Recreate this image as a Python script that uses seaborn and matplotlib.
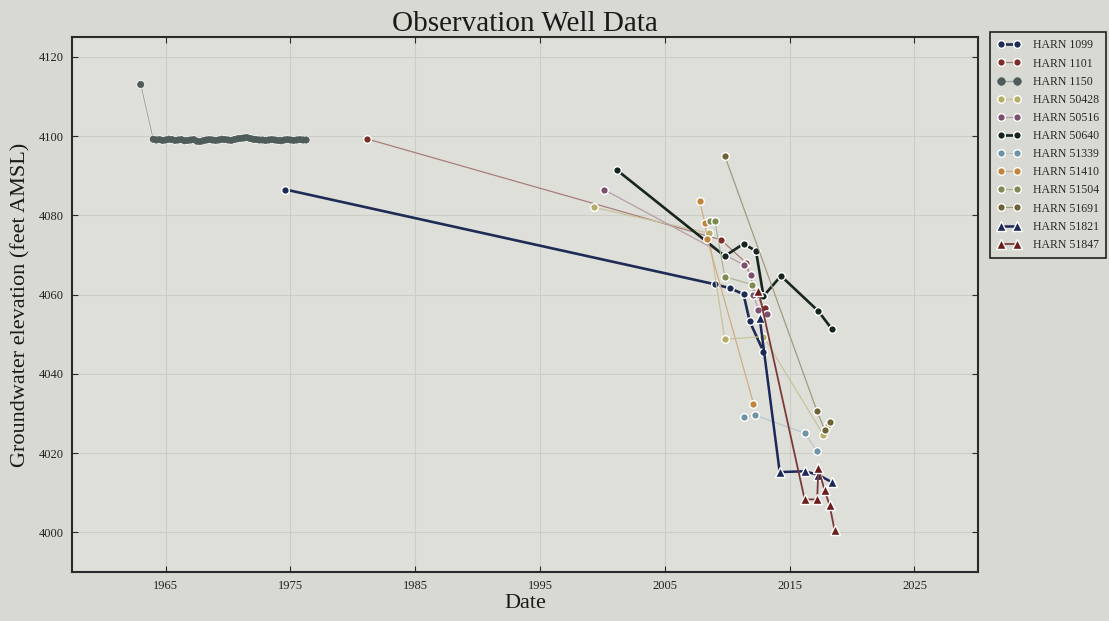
import matplotlib
matplotlib.use("Agg")
import matplotlib.pyplot as plt
import matplotlib.colors as mcolors
import matplotlib.patheffects as pe
import seaborn as sns
import pandas as pd

sns.set_style("ticks")
plt.rcParams['font.family'] = ['Liberation Serif', 'DejaVu Serif']

# ---------------- data ----------------
wells = ["HARN 1099", "HARN 1101", "HARN 1150", "HARN 50428", "HARN 50516",
         "HARN 50640", "HARN 51339", "HARN 51410", "HARN 51504", "HARN 51691",
         "HARN 51821", "HARN 51847"]

dates_1099 = [1974.6, 2009.0, 2010.2, 2011.3, 2011.8, 2012.9]
elev_1099 = [4086.5, 4062.6, 4061.6, 4060.1, 4053.2, 4045.6]

dates_1101 = [1981.1, 2009.5, 2011.5, 2012.3, 2013.0]
elev_1101 = [4099.3, 4073.8, 4068.0, 4060.0, 4056.5]

dates_1150 = [1963.0,
              1964.00, 1964.25, 1964.50, 1964.75, 1965.00, 1965.25, 1965.50, 1965.75,
              1966.00, 1966.25, 1966.50, 1966.75, 1967.00, 1967.25, 1967.50, 1967.75,
              1968.00, 1968.25, 1968.50, 1968.75, 1969.00, 1969.25, 1969.50, 1969.75,
              1970.00, 1970.25, 1970.50, 1970.75, 1971.00, 1971.25, 1971.50, 1971.75,
              1972.00, 1972.25, 1972.50, 1972.75, 1973.00, 1973.25, 1973.50, 1973.75,
              1974.00, 1974.25, 1974.50, 1974.75, 1975.00, 1975.25, 1975.50, 1975.75,
              1976.00, 1976.25]
elev_1150 = [4113.0,
             4099.2, 4099.0, 4099.1, 4098.9, 4099.0, 4099.2, 4099.1, 4098.9,
             4099.0, 4099.1, 4098.8, 4098.9, 4099.0, 4099.1, 4098.7, 4098.6,
             4098.8, 4099.0, 4099.1, 4099.0, 4098.9, 4099.0, 4099.2, 4099.1,
             4099.0, 4098.9, 4099.1, 4099.3, 4099.4, 4099.5, 4099.6, 4099.4,
             4099.2, 4099.1, 4099.0, 4099.0, 4098.9, 4099.0, 4099.1, 4099.0,
             4098.9, 4098.8, 4099.0, 4099.1, 4099.0, 4098.9, 4099.0, 4099.1,
             4099.0, 4099.0]

dates_50428 = [1999.3, 2008.5, 2009.8, 2012.9, 2017.7, 2018.1]
elev_50428 = [4082.0, 4075.5, 4048.7, 4049.4, 4024.6, 4027.0]

dates_50516 = [2000.1, 2011.3, 2011.9, 2012.1, 2012.5, 2013.2]
elev_50516 = [4086.5, 4067.5, 4065.0, 4060.0, 4056.0, 4055.0]

dates_50640 = [2001.2, 2009.8, 2011.3, 2012.3, 2012.9, 2014.3, 2017.3, 2018.4]
elev_50640 = [4091.3, 4069.7, 4072.8, 4071.0, 4059.6, 4064.7, 4055.8, 4051.2]

dates_51339 = [2011.3, 2012.2, 2016.2, 2017.2]
elev_51339 = [4029.0, 4029.6, 4025.0, 4020.5]

dates_51410 = [2007.8, 2008.2, 2008.4, 2012.1]
elev_51410 = [4083.5, 4078.0, 4074.0, 4032.5]

dates_51504 = [2008.6, 2009.0, 2009.8, 2012.0]
elev_51504 = [4078.5, 4078.6, 4064.5, 4062.5]

dates_51691 = [2009.8, 2017.2, 2017.8, 2018.2]
elev_51691 = [4095.0, 4030.5, 4025.8, 4027.8]

dates_51821 = [2012.6, 2014.2, 2016.2, 2017.3, 2018.4]
elev_51821 = [4054.0, 4015.2, 4015.4, 4014.5, 4012.6]

dates_51847 = [2012.5, 2016.2, 2017.2, 2017.3, 2017.8, 2018.2, 2018.6]
elev_51847 = [4061.0, 4008.3, 4008.3, 4016.2, 4010.6, 4006.8, 4000.5]

x_ticks = [1965, 1975, 1985, 1995, 2005, 2015, 2025]
y_ticks = [4000, 4020, 4040, 4060, 4080, 4100, 4120]

# ---------------- style ----------------
series = [
    (dates_1099, elev_1099, '#1e2b55', 'o', 1.9, 1.0),
    (dates_1101, elev_1101, '#7b2d2a', 'o', 0.9, 0.55),
    (dates_1150, elev_1150, '#4f5c59', 'o', 0.9, 0.45),
    (dates_50428, elev_50428, '#b5ac66', 'o', 0.9, 0.55),
    (dates_50516, elev_50516, '#7d4f6e', 'o', 0.9, 0.45),
    (dates_50640, elev_50640, '#17251f', 'o', 1.9, 1.0),
    (dates_51339, elev_51339, '#6d93a5', 'o', 0.8, 0.35),
    (dates_51410, elev_51410, '#c0843f', 'o', 0.9, 0.55),
    (dates_51504, elev_51504, '#7d8a52', 'o', 0.9, 0.5),
    (dates_51691, elev_51691, '#6c6434', 'o', 0.9, 0.55),
    (dates_51821, elev_51821, '#1b2858', '^', 1.8, 1.0),
    (dates_51847, elev_51847, '#6b1c1c', '^', 1.3, 0.85),
]

bg_fig = '#d9d9d3'
bg_ax = '#dfdfda'

fig = plt.figure(figsize=(11.09, 6.21), dpi=100, facecolor=bg_fig)
ax = fig.add_axes([0.065, 0.079, 0.817, 0.8615])
ax.set_facecolor(bg_ax)

for name, (d, v, c, m, lw, la) in zip(wells, series):
    df = pd.DataFrame({"Date": d, "Elev": v})
    rgb = mcolors.to_rgb(c)
    bgc = mcolors.to_rgb(bg_ax)
    line_c = tuple(la * a + (1 - la) * b for a, b in zip(rgb, bgc))
    dense = len(d) > 20
    kw = dict(color=line_c, marker=m, markersize=5.5 if m == 'o' else 6.5,
              markerfacecolor=c, linewidth=lw, label=name)
    if dense:
        kw.update(markersize=4.6, markeredgecolor=c, markeredgewidth=0.5,
                  path_effects=[pe.Stroke(linewidth=1.4, foreground='white'), pe.Normal()])
    else:
        kw.update(markeredgecolor='white', markeredgewidth=1.0)
    sns.lineplot(data=df, x="Date", y="Elev", ax=ax, estimator=None, sort=False, **kw)

ax.set_xlim(1957.5, 2030.1)
ax.set_ylim(3990, 4125)
ax.set_xticks(x_ticks)
ax.set_xticklabels([str(t) for t in x_ticks])
ax.set_yticks(y_ticks)
ax.set_yticklabels([str(t) for t in y_ticks])
ax.grid(True, color='#cdcdc7', linewidth=0.8)
ax.set_axisbelow(True)
for s in ax.spines.values():
    s.set_color('#2a2a2a')
    s.set_linewidth(1.5)
ax.tick_params(direction='in', top=True, right=True, length=4, width=0.8,
               labelsize=9, pad=6, colors='#2a2a2a', labelcolor='#222222')

ax.set_title("Observation Well Data", fontsize=21, pad=4, color='#1a1a1a')
ax.set_xlabel("Date", fontsize=16, color='#1a1a1a', labelpad=1)
ax.set_ylabel("Groundwater elevation (feet AMSL)", fontsize=16, color='#1a1a1a', labelpad=6)

leg = ax.legend(loc='upper left', bbox_to_anchor=(0.893, 0.948),
                bbox_transform=fig.transFigure, borderaxespad=0,
                fontsize=8.5, frameon=True, fancybox=False, numpoints=2,
                handlelength=2.0, labelspacing=0.52, borderpad=0.6,
                handletextpad=1.0)
leg.get_frame().set_edgecolor('#222222')
leg.get_frame().set_linewidth(1.2)
leg.get_frame().set_facecolor(bg_fig)
leg.get_frame().set_alpha(1)
for h in leg.legend_handles:
    h.set_path_effects([])
    h.set_markersize(5.5 if h.get_marker() == 'o' else 6.5)

fig.savefig("out.png", dpi=100, facecolor=bg_fig)
